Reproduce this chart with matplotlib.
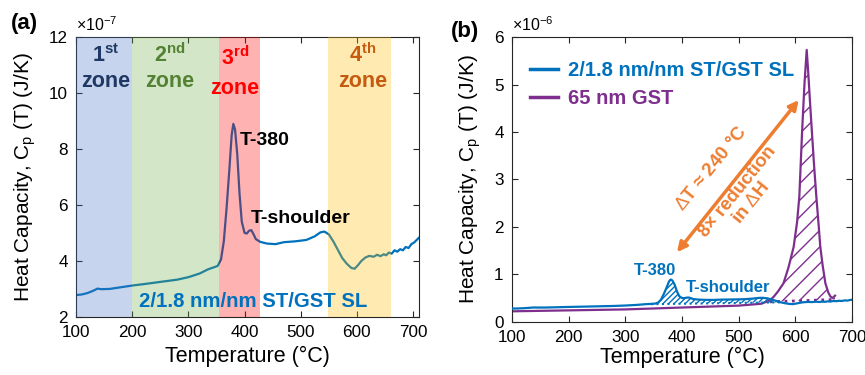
import matplotlib
matplotlib.use("Agg")
import matplotlib.pyplot as plt
import numpy as np

plt.rcParams['font.family'] = ['Liberation Sans', 'DejaVu Sans']
plt.rcParams['mathtext.fontset'] = 'custom'
plt.rcParams['mathtext.rm'] = 'Liberation Sans'
plt.rcParams['mathtext.bf'] = 'Liberation Sans:bold'
plt.rcParams['mathtext.it'] = 'Liberation Sans:italic'
plt.rcParams['hatch.linewidth'] = 1.0

# ST/GST superlattice, Cp in units of 1e-7 J/K
temp_sl = [100, 110, 120, 130, 138, 145, 160, 180, 200, 220, 250, 280, 300, 320, 335,
           345, 352, 358, 363, 368, 373, 377, 380, 383, 387, 391, 395, 400, 404, 408,
           412, 416, 420, 428, 440, 455, 470, 490, 510, 525, 535, 542, 550, 558, 566,
           574, 582, 590, 596, 602, 608, 615, 622, 630, 636, 642, 648, 652, 657, 662,
           667, 672, 677, 682, 687, 692, 697, 702, 706, 710]
cp_sl = [2.78, 2.80, 2.85, 2.93, 3.01, 2.99, 3.00, 3.06, 3.12, 3.17, 3.25, 3.33, 3.42, 3.55, 3.70,
         3.77, 3.82, 4.05, 4.70, 5.90, 7.30, 8.50, 8.90, 8.70, 7.80, 6.40, 5.40, 5.00, 4.98, 5.08,
         5.10, 4.95, 4.78, 4.68, 4.62, 4.60, 4.67, 4.70, 4.75, 4.88, 5.02, 5.05, 4.95, 4.70, 4.40,
         4.10, 3.90, 3.75, 3.72, 3.85, 4.00, 4.12, 4.18, 4.15, 4.22, 4.17, 4.24, 4.20, 4.30, 4.26,
         4.38, 4.33, 4.42, 4.38, 4.50, 4.46, 4.60, 4.66, 4.74, 4.82]

# 65 nm GST, Cp in units of 1e-6 J/K
temp_gst = [100, 200, 300, 400, 500, 540, 555, 562, 570, 579, 588, 597, 603, 607, 612,
            616, 620, 623, 626, 629, 633, 637, 641, 644, 648, 653, 658, 662, 666, 670]
cp_gst = [0.22, 0.24, 0.26, 0.30, 0.34, 0.38, 0.45, 0.53, 0.65, 0.81, 1.15, 1.58, 2.10, 2.64, 4.04,
          5.00, 5.73, 5.20, 4.60, 4.04, 3.30, 2.64, 2.05, 1.58, 1.20, 0.81, 0.62, 0.53, 0.50, 0.55]

# dotted baselines under the transition peaks (1e-6 J/K)
base_sl_t = [345, 575]
base_sl_cp = [0.37, 0.41]
base_gst_t = [555, 670]
base_gst_cp = [0.42, 0.47]

zones = [(100, 200), (200, 355), (355, 427), (548, 660)]
zone_colors = ['#4472C4', '#70AD47', '#FF0000', '#FFC000']
zone_text_colors = ['#203864', '#548235', '#FF0000', '#C55A11']
zone_names = [r'1$^{\mathbf{st}}$', r'2$^{\mathbf{nd}}$', r'3$^{\mathbf{rd}}$', r'4$^{\mathbf{th}}$']
zone_label_x = [152, 267, 383, 610]

blue = '#0072BD'
purple = '#7E2F8E'
orange = '#ED7D31'

fig = plt.figure(figsize=(8.65, 3.75), dpi=100)
ax1 = fig.add_axes([0.088, 0.155, 0.396, 0.746])
ax2 = fig.add_axes([0.592, 0.142, 0.393, 0.759])

# ---- panel (a)
ax1.plot(temp_sl, cp_sl, color=blue, lw=1.6, zorder=2)
for (lo, hi), c in zip(zones, zone_colors):
    ax1.axvspan(lo, hi, color=c, alpha=0.3, lw=0, zorder=3)
for name, x, c in zip(zone_names, zone_label_x, zone_text_colors):
    dy = 0.12 if c == '#FF0000' else 0
    ax1.text(x, 11.35 - dy, name, color=c, fontsize=15.5, fontweight='bold', ha='center', va='center', zorder=5)
    ax1.text(x, 10.4 - 2 * dy, 'zone', color=c, fontsize=15.5, fontweight='bold', ha='center', va='center', zorder=5)
ax1.text(436, 8.3, 'T-380', fontsize=14, fontweight='bold', ha='center', va='center', zorder=5)
ax1.text(499, 5.53, 'T-shoulder', fontsize=14, fontweight='bold', ha='center', va='center', zorder=5)
ax1.text(415, 2.55, '2/1.8 nm/nm ST/GST SL', fontsize=14.7, fontweight='bold', color=blue,
         ha='center', va='center', zorder=5)
ax1.set_xlim(100, 710)
ax1.set_ylim(2, 12)
ax1.set_xticks([100, 200, 300, 400, 500, 600, 700])
ax1.set_yticks([2, 4, 6, 8, 10, 12])
ax1.text(0.0, 1.01, r'$\times$10$^{-7}$', transform=ax1.transAxes, fontsize=11.5, ha='left', va='bottom')
ax1.set_ylabel(r'Heat Capacity, C$_\mathregular{p}$ (T) (J/K)', fontsize=15, labelpad=8)
ax1.set_xlabel('Temperature (°C)', fontsize=15.5, labelpad=4)
fig.text(0.013, 0.936, '(a)', fontsize=16, fontweight='bold', ha='left', va='center')

# ---- panel (b)
sl_b = np.array(cp_sl) / 10.0
ax2.plot(temp_sl, sl_b, color=blue, lw=1.6, zorder=3, label='2/1.8 nm/nm ST/GST SL')
ax2.plot(temp_gst, cp_gst, color=purple, lw=1.6, zorder=2, label='65 nm GST')
ax2.plot(base_sl_t, base_sl_cp, color=blue, lw=1.5, ls=':', zorder=3)
ax2.plot(base_gst_t, base_gst_cp, color=purple, lw=2, ls=':', zorder=2)

ts = np.array(temp_sl)
m = (ts >= base_sl_t[0]) & (ts <= base_sl_t[1])
ax2.fill_between(ts[m], np.interp(ts[m], base_sl_t, base_sl_cp), sl_b[m],
                 facecolor='none', edgecolor=blue, hatch='//////', lw=0, zorder=2)
tg = np.array(temp_gst)
cg = np.array(cp_gst)
m = (tg >= base_gst_t[0]) & (tg <= base_gst_t[1])
ax2.fill_between(tg[m], np.interp(tg[m], base_gst_t, base_gst_cp), cg[m],
                 facecolor='none', edgecolor=purple, hatch='//', lw=0, zorder=1)

ax2.annotate('', xy=(388, 1.42), xytext=(609, 4.72),
             arrowprops=dict(arrowstyle='<|-|>', color=orange, lw=2.5, mutation_scale=14))
ax2.text(452, 3.22, r'$\Delta$T ≈ 240 °C', color=orange, fontsize=13.5, fontweight='bold',
         rotation=51, ha='center', va='center')
ax2.text(510, 2.62, '8× reduction\nin ' + r'$\Delta$H', color=orange, fontsize=13.5, fontweight='bold',
         rotation=51, ha='center', va='center', linespacing=1.0)
ax2.text(353, 1.09, 'T-380', color=blue, fontsize=12, fontweight='bold', ha='center', va='center')
ax2.text(482, 0.73, 'T-shoulder', color=blue, fontsize=12, fontweight='bold', ha='center', va='center')

leg = ax2.legend(loc='upper left', bbox_to_anchor=(0.01, 0.965), frameon=False,
                 prop={'size': 14.5, 'weight': 'bold'}, handlelength=1.4, handletextpad=0.5,
                 labelspacing=0.45, borderaxespad=0.3)
for txt, c in zip(leg.get_texts(), [blue, purple]):
    txt.set_color(c)
for ln in leg.get_lines():
    ln.set_linewidth(2.5)

ax2.set_xlim(100, 700)
ax2.set_ylim(0, 6)
ax2.set_xticks([100, 200, 300, 400, 500, 600, 700])
ax2.set_yticks([0, 1, 2, 3, 4, 5, 6])
ax2.text(0.0, 1.01, r'$\times$10$^{-6}$', transform=ax2.transAxes, fontsize=11.5, ha='left', va='bottom')
ax2.set_ylabel(r'Heat Capacity, C$_\mathregular{p}$ (T) (J/K)', fontsize=15, labelpad=8)
ax2.set_xlabel('Temperature (°C)', fontsize=15.5, labelpad=1)
fig.text(0.521, 0.915, '(b)', fontsize=16, fontweight='bold', ha='left', va='center')

for ax in (ax1, ax2):
    ax.tick_params(direction='in', top=True, right=True, labelsize=12.3, length=4, pad=6,
                   color='#262626')
    for s in ax.spines.values():
        s.set_color('#262626')
        s.set_linewidth(0.8)

fig.savefig('out.png', dpi=100)
